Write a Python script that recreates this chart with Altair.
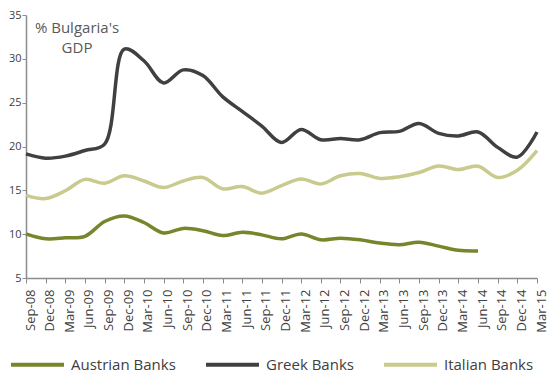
import altair as alt
import pandas as pd

quarters = ["Sep-08", "Dec-08", "Mar-09", "Jun-09", "Sep-09", "Dec-09", "Mar-10", "Jun-10", "Sep-10",
            "Dec-10", "Mar-11", "Jun-11", "Sep-11", "Dec-11", "Mar-12", "Jun-12", "Sep-12", "Dec-12",
            "Mar-13", "Jun-13", "Sep-13", "Dec-13", "Mar-14", "Jun-14", "Sep-14", "Dec-14", "Mar-15"]

austrian = [10.03, 9.47, 9.58, 9.76, 11.44, 12.08, 11.33, 10.14, 10.66, 10.4, 9.84, 10.21, 9.92, 9.47,
            10.03, 9.36, 9.54, 9.36, 8.98, 8.8, 9.09, 8.64, 8.16, 8.09]
greek = [19.16, 18.67, 18.9, 19.54, 20.27, 31.1, 29.78, 27.25, 28.74, 28.1, 25.69, 24.01, 22.33, 20.46,
         21.95, 20.77, 20.91, 20.77, 21.58, 21.73, 22.62, 21.5, 21.21, 21.66, 19.9, 18.79, 21.66]
italian = [14.43, 14.06, 14.95, 16.25, 15.8, 16.66, 16.07, 15.32, 16.07, 16.47, 15.17, 15.43, 14.68, 15.54,
           16.29, 15.73, 16.66, 16.92, 16.36, 16.55, 17.03, 17.78, 17.37, 17.75, 16.47, 17.3, 19.54]

series_names = ["Austrian Banks", "Greek Banks", "Italian Banks"]
series_colors = ["#77862b", "#404040", "#c9ca8e"]
y_ticks = [5, 10, 15, 20, 25, 30, 35]

rows = []
for name, vals in zip(series_names, [austrian, greek, italian]):
    for q, v in zip(quarters, vals):
        rows.append({"quarter": q, "series": name, "value": v})
df = pd.DataFrame(rows)

FONT = "Open Sans"

lines = alt.Chart(df).mark_line(strokeWidth=3.5, interpolate="catmull-rom").encode(
    x=alt.X("quarter:O", sort=quarters, scale=alt.Scale(type="point", padding=0),
            axis=alt.Axis(title=None, labelAngle=270, labelAlign="right", labelBaseline="middle",
                          labelPadding=6, labelOffset=4, tickSize=5, labelFontSize=13,
                          labelColor="#404040", labelFont=FONT, domainColor="#8c8c8c",
                          tickColor="#8c8c8c", domainWidth=1.5, grid=False)),
    y=alt.Y("value:Q", scale=alt.Scale(domain=[5, 35], nice=False, zero=False),
            axis=alt.Axis(title=None, values=y_ticks, tickSize=4, labelPadding=1, labelFontSize=11,
                          labelColor="#404040", labelFont=FONT, domainColor="#8c8c8c",
                          tickColor="#8c8c8c", domainWidth=1.5, grid=False)),
    color=alt.Color("series:N", scale=alt.Scale(domain=series_names, range=series_colors),
                    legend=alt.Legend(title=None, orient="none", legendX=-17, legendY=321,
                                      direction="horizontal", columns=3, symbolType="stroke",
                                      symbolSize=2809, symbolStrokeWidth=4, labelFontSize=15,
                                      labelFont=FONT, labelColor="#404040", labelOffset=5,
                                      gridAlign="each", columnPadding=22, padding=0)),
)

label = alt.Chart(pd.DataFrame({"t": ["% Bulgaria's\nGDP"]})).mark_text(
    font=FONT, fontSize=15, color="#595959", align="center", baseline="alphabetic",
    lineBreak="\n", lineHeight=20,
).encode(x=alt.value(51), y=alt.value(18), text="t:N")

chart = alt.layer(lines, label).properties(
    width=511, height=263,
    autosize=alt.AutoSizeParams(type="none"),
    padding={"left": 18, "top": 7, "right": 11, "bottom": 97},
    background="white",
).configure_view(stroke=None)

chart.save("out.html", embed_options={"renderer": "svg", "actions": False})
